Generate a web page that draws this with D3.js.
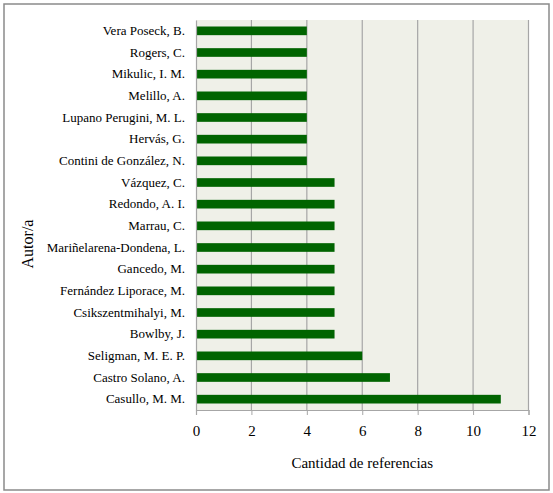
<!DOCTYPE html>
<html><head><meta charset="utf-8">
<script src="https://cdn.jsdelivr.net/npm/d3@7"></script>
</head><body style="margin:0">
<script>
const authors = ["Vera Poseck, B.","Rogers, C.","Mikulic, I. M.","Melillo, A.","Lupano Perugini, M. L.","Hervás, G.","Contini de González, N.","Vázquez, C.","Redondo, A. I.","Marrau, C.","Mariñelarena-Dondena, L.","Gancedo, M.","Fernández Liporace, M.","Csikszentmihalyi, M.","Bowlby, J.","Seligman, M. E. P.","Castro Solano, A.","Casullo, M. M."];
const counts = [4,4,4,4,4,4,4,5,5,5,5,5,5,5,5,6,7,11];
const xTicks = [0,2,4,6,8,10,12];
const xTitle = "Cantidad de referencias";
const yTitle = "Autor/a";

const FF="'Liberation Serif'";
const W=553,H=493;
const svg=d3.select("body").append("svg").attr("width",W).attr("height",H)
  .style("display","block").style("font-family",FF);
svg.append("rect").attr("x",4).attr("y",4).attr("width",545).attr("height",486)
  .attr("fill","#fff").attr("stroke","#8a8a8a").attr("stroke-width",1.5);

const m={l:196,r:528.5,t:20,b:410};
const x=d3.scaleLinear().domain([0,12]).range([m.l,m.r]);
const y=d3.scaleBand().domain(authors).range([m.t,m.b]).paddingInner(0.6).paddingOuter(0.3);

svg.append("rect").attr("x",m.l).attr("y",m.t).attr("width",m.r-m.l).attr("height",m.b-m.t).attr("fill","#eff0e8");
svg.append("g").selectAll("line").data(xTicks.slice(1)).join("line")
  .attr("x1",d=>x(d)).attr("x2",d=>x(d)).attr("y1",m.t).attr("y2",m.b)
  .attr("stroke","#a6a6a6").attr("stroke-width",1.2);

svg.append("g").selectAll("rect").data(authors).join("rect")
  .attr("x",x(0)).attr("y",d=>y(d)).attr("height",y.bandwidth())
  .attr("width",(d,i)=>x(counts[i])-x(0)).attr("fill","#006400");

const xa=svg.append("g").attr("transform",`translate(0,${m.b})`)
  .call(d3.axisBottom(x).tickValues(xTicks).tickSize(5).tickPadding(10));
xa.attr("font-family",null).attr("font-size",null);
xa.select(".domain").attr("stroke","#a6a6a6").attr("stroke-width",1.2);
xa.selectAll(".tick line").attr("stroke","#a6a6a6");
xa.selectAll("text").style("font-family",FF).style("font-size","15px").attr("fill","#000");

const ya=svg.append("g").attr("transform",`translate(${m.l},0)`)
  .call(d3.axisLeft(y).tickSize(0).tickPadding(11));
ya.attr("font-family",null).attr("font-size",null);
ya.select(".domain").attr("stroke","#a6a6a6").attr("stroke-width",1.2);
ya.selectAll("text").style("font-family",FF).style("font-size","13px").attr("fill","#000");

svg.append("text").attr("x",(m.l+m.r)/2).attr("y",468).attr("text-anchor","middle")
  .style("font-family",FF).style("font-size","15px").text(xTitle);
svg.append("text").attr("transform",`translate(33,244) rotate(-90)`).attr("text-anchor","middle")
  .style("font-family",FF).style("font-size","16px").text(yTitle);
</script>
</body></html>
